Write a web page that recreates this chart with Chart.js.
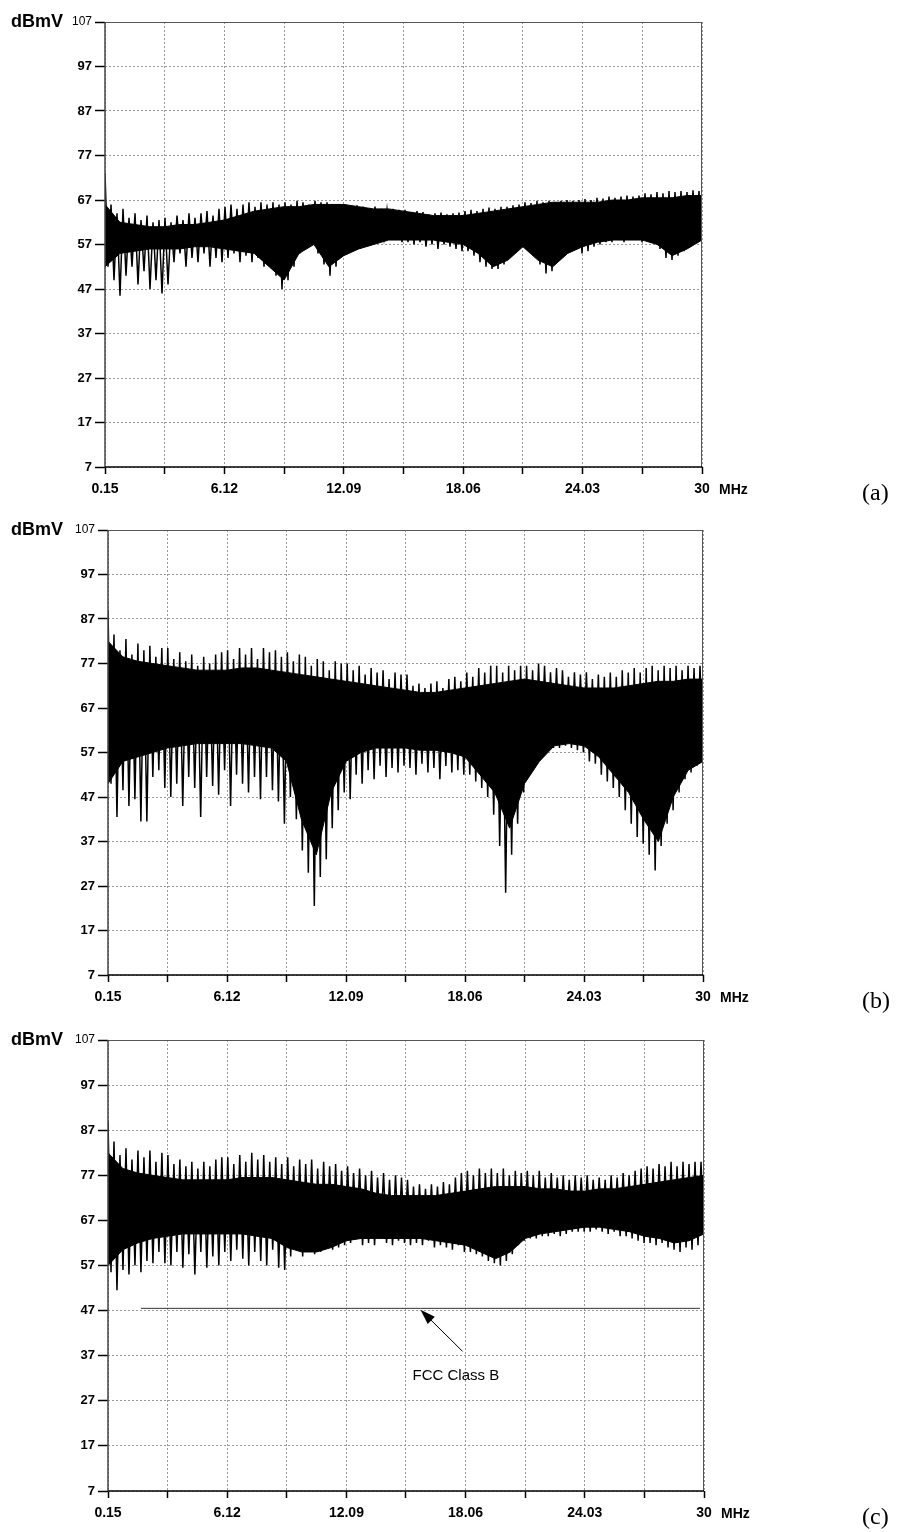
<!DOCTYPE html>
<html>
<head>
<meta charset="utf-8">
<script src="https://cdn.jsdelivr.net/npm/chart.js@4.4.0/dist/chart.umd.min.js"></script>
<style>
  html, body { margin: 0; padding: 0; background: #fff; }
  #wrap { position: relative; width: 904px; height: 1532px; }
  canvas { position: absolute; left: 0; }
</style>
</head>
<body>
<div id="wrap">
  <canvas id="chartA" width="904" height="508" style="top:0px"></canvas>
  <canvas id="chartB" width="904" height="508" style="top:508px"></canvas>
  <canvas id="chartC" width="904" height="514" style="top:1018px"></canvas>
</div>
<script>
// 軸の目盛り
const xTicks = [0.15, 3.135, 6.12, 9.105, 12.09, 15.075, 18.06, 21.045, 24.03, 27.015, 30];
const xTickLabels = ['0.15', '', '6.12', '', '12.09', '', '18.06', '', '24.03', '', '30'];
const yTicks = [7, 17, 27, 37, 47, 57, 67, 77, 87, 97, 107];

// 掃引: 0.3 MHz ごとに山と谷をひとつずつ (1行 = 1目盛り区間)
const sweepStart = 0.15;
const sweepStep = 0.3;
// 密な部分の上下端: 0.15〜30 MHz を 40 区間で読み取り
const coreSteps = 40;

// (a)
const peaksA = [
  73, 66, 64, 65, 63, 64, 62.5, 63.5, 62, 62.5,
  63, 62, 63.5, 62.5, 64, 63, 64, 64.5, 63.5, 65,
  65.5, 66, 65, 66, 66.5, 65.5, 66.5, 66, 66.5, 66,
  66.5, 66, 66.8, 66.5, 66, 66.8, 66.5, 66.5, 65.8, 66,
  66, 65.5, 65.8, 65.5, 65, 65.5, 65, 64.8, 65, 64.8,
  64.8, 64.3, 64.5, 64.3, 63.8, 64, 64.2, 63.8, 64, 64.2,
  64.5, 64.8, 64.5, 65, 65.3, 65, 65.5, 65.5, 65.8, 66,
  66.5, 66.3, 66.8, 66.5, 66.8, 66.5, 66.8, 67, 66.8, 67,
  67.2, 67, 67.5, 67.3, 67.8, 67.5, 67.8, 68, 67.8, 68,
  68.5, 68.3, 68.8, 68.5, 69, 68.8, 69, 68.8, 69.2, 69
];
const troughsA = [
  52, 49, 45.5, 50, 52, 48, 51, 47, 49, 46,
  48, 53, 55, 52, 54, 53, 55, 52, 54, 53,
  54, 55, 53, 54.5, 53, 54, 52, 53, 50, 47,
  49, 52, 55, 57.5, 57, 55, 52.5, 50, 52, 54.5,
  55, 56, 57, 57.5, 58, 58, 58.5, 58, 58, 57.5,
  57.5, 57, 57.5, 56.5, 57, 56, 57, 56.5, 56, 55.5,
  55.5, 54.5, 53, 52, 51.5, 51.5, 52.5, 54, 55.5, 56.5,
  56, 54.5, 52.5, 50.5, 51, 53.5, 55.5, 56.5, 56, 55,
  55.5, 56.5, 57, 57.5, 57.5, 58, 57.5, 58, 58, 57.5,
  58, 57.5, 56, 54, 53.5, 54.5, 55.5, 56.5, 57.5, 58
];
const coreTopA = [66, 62, 61.5, 61, 61, 61.5, 61.5, 62, 62.5, 63.5, 64.5, 65, 65.5, 65.5, 66, 66, 66, 65.5, 65, 65, 64.5,
  64, 63.5, 63.5, 63.5, 64, 64.5, 65, 65.5, 66, 66.5, 66.5, 66.5, 66.5, 67, 67, 67.5, 67.5, 67.5, 68, 68];
const coreBotA = [52, 55, 55.5, 56, 56, 56, 56.5, 56.5, 56, 55.5, 55, 52, 49, 55, 57, 52, 54.5, 56, 57, 58, 58,
  58, 58, 57.5, 57, 55, 52, 53.5, 56.5, 53.5, 52, 55, 56.5, 57.5, 58, 58, 58, 57, 54.5, 56, 58];

// (b)
const peaksB = [
  89, 83.5, 80, 82.5, 79, 81.5, 80, 81, 78.5, 80.5,
  80.5, 78, 79.5, 77.5, 79, 76.5, 78.5, 77, 79, 79.5,
  80, 78, 80.5, 79, 80.5, 78, 80.5, 79.5, 80, 78.5,
  79.5, 77.5, 79, 78.5, 76.5, 78, 77.5, 75.5, 77.5, 77,
  77, 75.5, 76.5, 74.5, 76, 75, 75.5, 73.5, 75, 74.5,
  74.5, 72, 72.5, 71.5, 72.5, 73, 71.5, 73.5, 74, 73,
  75, 74, 76, 75, 76.5, 76.5, 75, 76.5, 75.5, 76.5,
  76.5, 75.5, 77, 76.5, 75, 76, 75.5, 74, 75, 74.5,
  75, 73.5, 74.5, 74, 75, 74, 75.5, 75, 76, 75,
  76, 76.5, 75.5, 76.5, 76, 76.5, 75.5, 76.5, 76, 76.5
];
const troughsB = [
  50, 42.5, 48.5, 45, 46.5, 41.5, 41.5, 51.5, 53, 49,
  47, 50, 45, 51.5, 49, 42.5, 51.5, 49.5, 47.5, 53,
  45, 52, 50, 48, 51.5, 46.5, 51.5, 48.5, 46, 41,
  47, 42, 35, 30, 22.5, 29, 33, 40, 44, 48,
  46.5, 52, 50, 53, 51, 54, 51.5, 53.5, 52.5, 54,
  53.5, 52, 54.5, 52.5, 53.5, 51, 54, 52.5, 53, 52,
  52, 50.5, 49, 47, 43, 36, 25.5, 34, 41, 48,
  53, 55, 56.5, 57.5, 58, 58, 58.5, 58, 57.5, 57,
  55, 54.5, 52, 50.5, 49, 47, 44, 41, 38, 36.5,
  34, 30.5, 36, 41, 44, 48, 51, 52.5, 54, 55
];
const coreTopB = [82, 78.5, 77.5, 77, 76.5, 76, 75.5, 75.5, 75.5, 76, 76, 75.5, 75, 74.5, 74, 73.5, 73, 72.5, 72, 71.5, 71,
  70.5, 70.5, 71, 71.5, 72, 72.5, 73, 73.5, 73, 72.5, 72, 71.5, 71.5, 71.5, 72, 72.5, 73, 73, 73.5, 73.5];
const coreBotB = [50, 55, 56, 57, 58, 58.5, 59, 59, 59, 59, 58.5, 58, 55, 42, 34, 48, 55, 57, 58, 58, 58,
  57.5, 57.5, 57, 56, 52, 48, 40, 50, 55, 58.5, 59, 58.5, 56, 52, 48, 42, 37, 47, 53, 55];

// (c)
const peaksC = [
  89, 84.5, 81.5, 83, 80.5, 82.5, 81, 82.5, 80, 82,
  81.5, 79.5, 80.5, 79, 80, 78.5, 80, 79, 80.5, 81,
  81, 79.5, 81.5, 80, 82, 80.5, 81.5, 80, 81, 79.5,
  81, 79, 80.5, 79.5, 80.5, 78.5, 80, 79, 79.5, 78,
  79, 77.5, 78.5, 77, 78, 76.5, 77.5, 76, 77, 76.5,
  76, 74.5, 75, 74, 75, 74.5, 75.5, 75, 76.5, 77.5,
  78, 77, 78.5, 77.5, 78.5, 77.5, 78.5, 77, 78, 77.5,
  78, 77, 78, 76.5, 77.5, 76.5, 77, 76, 77, 76.5,
  77, 76, 76.5, 76, 77, 76.5, 77.5, 77, 78, 78.5,
  79, 78.5, 79.5, 79, 80, 79, 80, 79.5, 80, 80
];
const troughsC = [
  55.5, 51.5, 56, 55, 57, 55.5, 58, 57.5, 60, 57.5,
  57, 60, 56.5, 59.5, 55, 60, 56.5, 59, 57, 60,
  58, 60.5, 58.5, 57, 60, 58, 57, 60.5, 56.5, 56,
  59, 60.5, 59, 61, 59.5, 60, 61.5, 60.5, 61, 61.5,
  62, 63, 61.5, 62, 61.5, 63, 62, 61.5, 62.5, 62,
  61.5, 62, 61.5, 62.5, 61, 61.5, 61, 60.5, 61.5, 60,
  60, 59.5, 59, 58, 57.5, 57, 58, 59.5, 61.5, 62.5,
  63, 63, 63.5, 63.5, 64, 63.5, 64, 64.5, 64.5, 64.5,
  64.5, 65, 64.5, 64, 64.5, 63.5, 63.5, 63, 62.5, 62,
  62, 61.5, 62, 61, 60.5, 60, 61, 60.5, 61.5, 63
];
const coreTopC = [82, 78.5, 77.5, 77, 76.5, 76, 76, 76, 76, 76.5, 76.5, 76.5, 76, 75.5, 75, 75, 74.5, 74, 73, 72.5, 72.5,
  72.5, 72.5, 73, 73.5, 74, 74.5, 74.5, 74.5, 74, 74, 73.5, 73.5, 74, 74, 74.5, 75, 75.5, 76, 76.5, 77];
const coreBotC = [57, 60.5, 62, 63, 63.5, 64, 64, 64, 64, 64, 63.5, 63, 61, 60, 60, 61, 62.5, 63, 63, 63, 63,
  63, 62.5, 62, 61.5, 60, 58.5, 60, 63, 64, 64.5, 65, 65.5, 65.5, 65, 64.5, 63.5, 63, 62, 62.5, 64];

// FCC Class B 限度線
const fccFreq = [1.8, 29.8];
const fccLevel = [47.5, 47.5];

const FONT = "'Liberation Sans', Arial, sans-serif";

function zigzag(peaks, troughs) {
    const pts = [];
    for (let k = 0; k < peaks.length; k++) {
        pts.push({x: sweepStart + sweepStep * k, y: peaks[k]});
        pts.push({x: sweepStart + sweepStep * (k + 0.5), y: troughs[k]});
    }
    return pts;
}

function band(values) {
    return values.map((v, i) => ({x: xTicks[0] + (xTicks[10] - xTicks[0]) * i / coreSteps, y: v}));
}

/**
 * 枠・単位・パネル記号
 */
const decorPlugin = {
    id: 'decor',
    afterDraw(chart, args, opts) {
        const ctx = chart.ctx;
        const a = chart.chartArea;
        ctx.save();
        // 上・右の枠
        ctx.strokeStyle = '#555';
        ctx.lineWidth = 1;
        ctx.beginPath();
        ctx.moveTo(a.left, a.top + 0.5);
        ctx.lineTo(a.right, a.top + 0.5);
        ctx.moveTo(a.right - 0.5, a.top);
        ctx.lineTo(a.right - 0.5, a.bottom);
        ctx.stroke();
        // 左軸
        ctx.strokeStyle = '#444';
        ctx.lineWidth = 1.5;
        ctx.beginPath();
        ctx.moveTo(a.left, a.top);
        ctx.lineTo(a.left, a.bottom);
        ctx.stroke();
        // 下軸
        ctx.strokeStyle = '#000';
        ctx.beginPath();
        ctx.moveTo(a.left, a.bottom);
        ctx.lineTo(a.right, a.bottom);
        ctx.stroke();

        ctx.fillStyle = '#000';
        ctx.textBaseline = 'alphabetic';
        ctx.textAlign = 'left';
        ctx.font = 'bold 18px ' + FONT;
        ctx.fillText('dBmV', 11, 27);

        ctx.textBaseline = 'middle';
        ctx.font = 'bold 14px ' + FONT;
        ctx.fillText('MHz', a.right + 17, a.bottom + 23);

        ctx.font = "24px 'Liberation Serif', 'Times New Roman', serif";
        ctx.fillText(opts.tag, 862, a.bottom + 27);

        if (opts.note) {
            const xs = chart.scales.x;
            const ys = chart.scales.y;
            const tx = xs.getPixelForValue(opts.note.tip[0]);
            const ty = ys.getPixelForValue(opts.note.tip[1]);
            const sx = xs.getPixelForValue(opts.note.tail[0]);
            const sy = ys.getPixelForValue(opts.note.tail[1]);
            const ang = Math.atan2(ty - sy, tx - sx);
            ctx.strokeStyle = '#000';
            ctx.lineWidth = 1;
            ctx.beginPath();
            ctx.moveTo(sx, sy);
            ctx.lineTo(tx - 8 * Math.cos(ang), ty - 8 * Math.sin(ang));
            ctx.stroke();
            ctx.beginPath();
            ctx.moveTo(tx, ty);
            ctx.lineTo(tx - 16 * Math.cos(ang - 0.32), ty - 16 * Math.sin(ang - 0.32));
            ctx.lineTo(tx - 16 * Math.cos(ang + 0.32), ty - 16 * Math.sin(ang + 0.32));
            ctx.closePath();
            ctx.fill();
            ctx.font = '15px ' + FONT;
            ctx.textAlign = 'left';
            ctx.fillText(opts.note.text, xs.getPixelForValue(opts.note.at[0]), ys.getPixelForValue(opts.note.at[1]));
        }
        ctx.restore();
    }
};

function makePanel(id, cfg) {
    const canvas = document.getElementById(id);
    const datasets = [
        {data: band(cfg.coreTop), borderColor: '#000', borderWidth: 1, pointRadius: 0, fill: false},
        {data: band(cfg.coreBot), borderColor: '#000', borderWidth: 1, pointRadius: 0, fill: '-1', backgroundColor: '#000'},
        {data: zigzag(cfg.peaks, cfg.troughs), borderColor: '#000', borderWidth: 1.5, pointRadius: 0, fill: false}
    ];
    if (cfg.limit) {
        datasets.push({
            data: cfg.limit.freq.map((f, i) => ({x: f, y: cfg.limit.level[i]})),
            borderColor: '#333', borderWidth: 1, pointRadius: 0, fill: false
        });
    }
    return new Chart(canvas, {
        type: 'line',
        data: {datasets: datasets},
        options: {
            responsive: false,
            animation: false,
            events: [],
            elements: {line: {tension: 0}},
            layout: {padding: {left: 0, right: 904 - cfg.right, top: 22, bottom: 0}},
            plugins: {
                legend: {display: false},
                tooltip: {enabled: false},
                decor: {tag: cfg.tag, note: cfg.note}
            },
            scales: {
                x: {
                    type: 'linear',
                    min: xTicks[0],
                    max: xTicks[10],
                    afterBuildTicks: s => { s.ticks = xTicks.map(v => ({value: v})); },
                    afterFit: s => { s.height = 41; },
                    ticks: {
                        autoSkip: false, maxRotation: 0, minRotation: 0, padding: 7,
                        color: '#000',
                        font: {family: FONT, size: 14, weight: 'bold'},
                        callback: (v, i) => xTickLabels[i]
                    },
                    grid: {color: '#9a9a9a', lineWidth: 1, tickLength: 7, tickColor: '#000', tickWidth: 1.5, tickBorderDash: []},
                    border: {display: false, dash: [2, 2]}
                },
                y: {
                    min: yTicks[0],
                    max: yTicks[10],
                    afterBuildTicks: s => { s.ticks = yTicks.map(v => ({value: v})); },
                    afterFit: s => { s.width = cfg.left; },
                    ticks: {
                        padding: 3,
                        color: '#000',
                        font: c => (c.tick && c.tick.value === 107)
                            ? {family: FONT, size: 12, weight: 'normal'}
                            : {family: FONT, size: 13, weight: 'bold'}
                    },
                    grid: {color: '#9a9a9a', lineWidth: 1, tickLength: 10, tickColor: '#000', tickWidth: 1.5, tickBorderDash: []},
                    border: {display: false, dash: [2, 2]}
                }
            }
        },
        plugins: [decorPlugin]
    });
}

makePanel('chartA', {left: 105, right: 702, tag: '(a)', peaks: peaksA, troughs: troughsA, coreTop: coreTopA, coreBot: coreBotA});
makePanel('chartB', {left: 108, right: 703, tag: '(b)', peaks: peaksB, troughs: troughsB, coreTop: coreTopB, coreBot: coreBotB});
makePanel('chartC', {
    left: 108, right: 704, tag: '(c)', peaks: peaksC, troughs: troughsC, coreTop: coreTopC, coreBot: coreBotC,
    limit: {freq: fccFreq, level: fccLevel},
    note: {text: 'FCC Class B', tip: [15.8, 47.2], tail: [17.9, 38], at: [15.4, 32.6]}
});
</script>
</body>
</html>
